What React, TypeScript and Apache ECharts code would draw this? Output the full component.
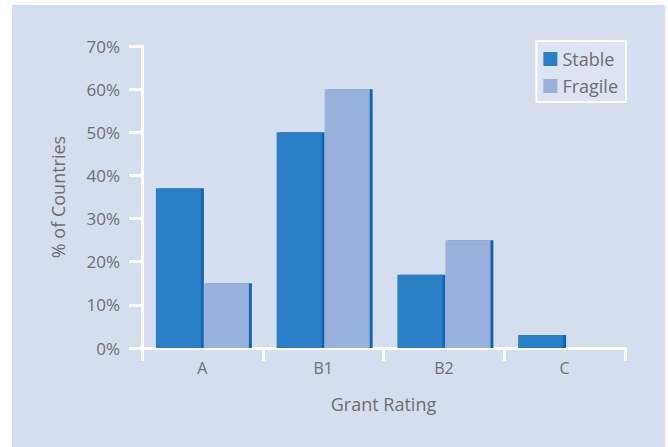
import React, { useEffect, useRef } from "react";
import * as echarts from "echarts";

const categories = ["A", "B1", "B2", "C"];
const stableValues = [37, 50, 17, 3];
const fragileValues = [15, 60, 25, 0];
const seriesNames = ["Stable", "Fragile"];

export default function App() {
  const ref = useRef<HTMLDivElement>(null);
  useEffect(() => {
    if (!ref.current) return;
    const chart = echarts.init(ref.current, null, { renderer: "svg" });
    const textColor = "#6e6e6e";
    const font = "'Open Sans', Lato, sans-serif";
    const fw = 400;
    const barStyle = (color: string) => ({
      color,
      shadowColor: "#0865b3",
      shadowOffsetX: 3,
      shadowOffsetY: 0,
      shadowBlur: 0,
    });
    chart.setOption({
      animation: false,
      textStyle: { fontFamily: font, fontWeight: fw },
      graphic: [
        {
          type: "rect",
          z: -10,
          silent: true,
          shape: { x: 12, y: 5, width: 653, height: 442 },
          style: { fill: "#d5deef" },
        },
      ],
      grid: { left: 142, right: 43, top: 46, bottom: 99 },
      legend: {
        orient: "vertical",
        right: 42,
        top: 41,
        data: seriesNames,
        backgroundColor: "#dce3f2",
        borderColor: "#ffffff",
        borderWidth: 2,
        borderRadius: 0,
        padding: [8, 8, 6, 7],
        itemWidth: 14,
        itemHeight: 14,
        itemGap: 7,
        icon: "rect",
        itemStyle: { shadowBlur: 0, shadowOffsetX: 0, shadowColor: "transparent" },
        textStyle: { color: textColor, fontSize: 18, fontWeight: fw, fontFamily: font, lineHeight: 20 },
      },
      xAxis: {
        type: "category",
        data: categories,
        name: "Grant Rating",
        nameLocation: "middle",
        nameGap: 47,
        nameTextStyle: { color: textColor, fontSize: 18, fontWeight: fw, fontFamily: font },
        axisLine: { show: true, lineStyle: { color: "#ffffff", width: 3 } },
        axisTick: { show: true, length: 13, lineStyle: { color: "#ffffff", width: 3 } },
        axisLabel: { color: textColor, fontSize: 16, fontWeight: fw, margin: 12, fontFamily: font },
        splitLine: { show: false },
      },
      yAxis: {
        type: "value",
        min: 0,
        max: 70,
        interval: 10,
        name: "% of Countries",
        nameLocation: "middle",
        nameGap: 75,
        nameTextStyle: { color: textColor, fontSize: 18, fontWeight: fw, fontFamily: font },
        axisLine: { show: true, lineStyle: { color: "#ffffff", width: 3 } },
        axisTick: { show: true, length: 13, lineStyle: { color: "#ffffff", width: 3 } },
        axisLabel: { color: textColor, fontSize: 17, fontWeight: fw, margin: 22, formatter: "{value}%", fontFamily: font },
        splitLine: { show: false },
      },
      series: [
        {
          name: seriesNames[0],
          type: "bar",
          data: stableValues,
          barWidth: 45,
          barGap: "6.67%",
          itemStyle: barStyle("#2a80c6"),
        },
        {
          name: seriesNames[1],
          type: "bar",
          data: fragileValues.map((v) => (v === 0 ? null : v)),
          barWidth: 45,
          barGap: "6.67%",
          itemStyle: barStyle("#97b0dc"),
        },
      ],
    });
    return () => chart.dispose();
  }, []);
  return (
    <div
      ref={ref}
      style={{ position: "fixed", left: 0, top: 0, width: 668, height: 447, background: "#ffffff" }}
    />
  );
}
